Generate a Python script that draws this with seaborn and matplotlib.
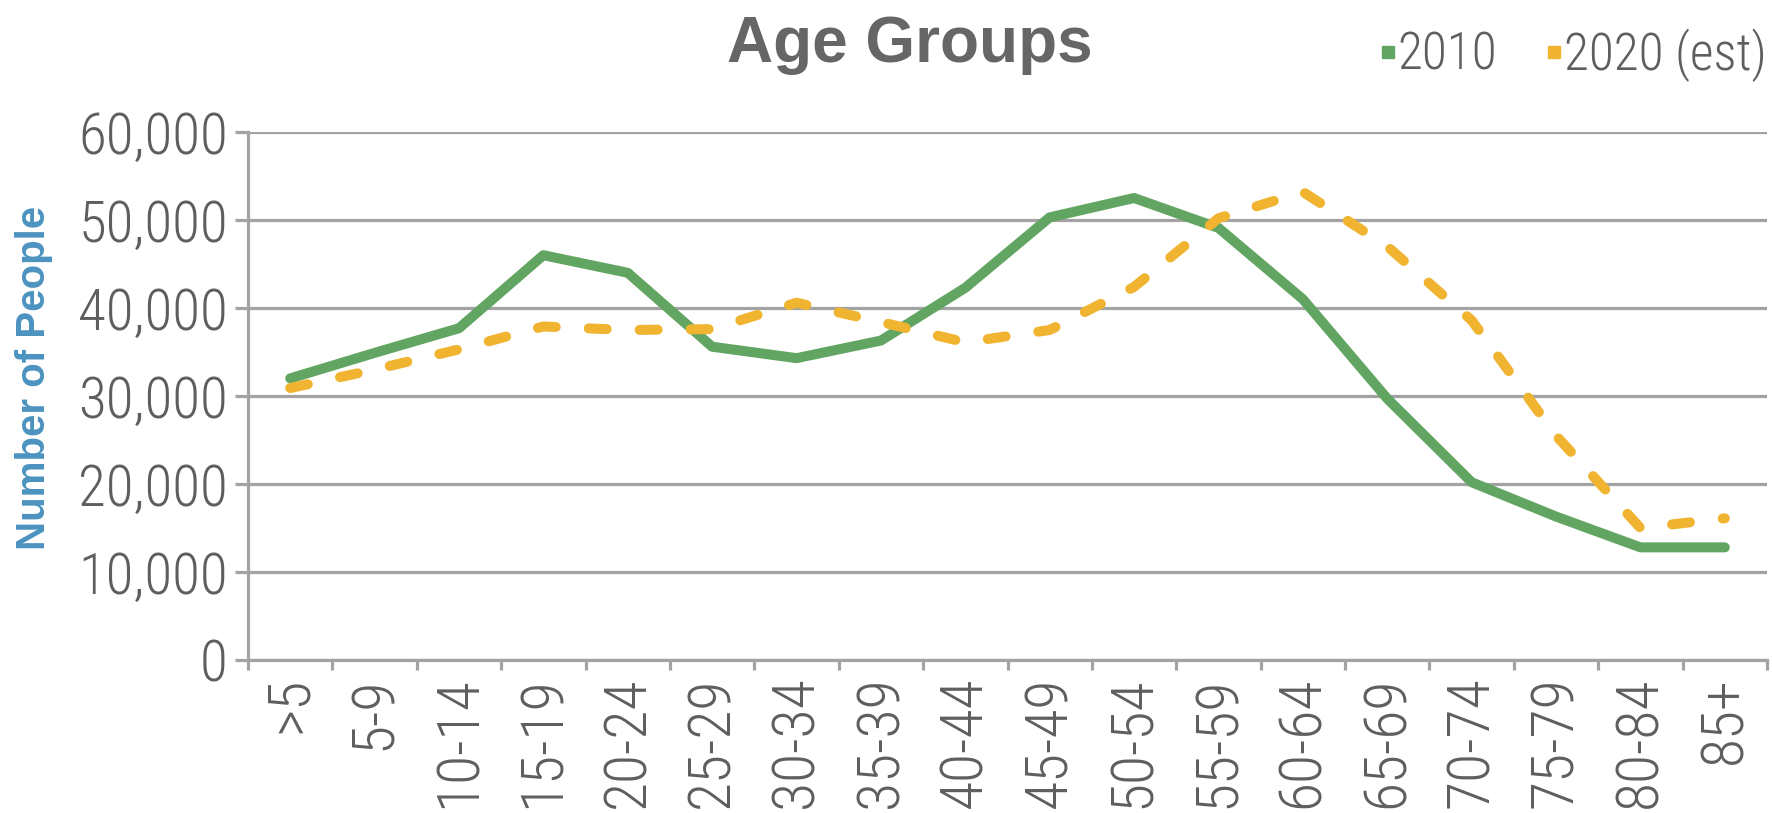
import matplotlib
matplotlib.use("Agg")
import matplotlib.pyplot as plt
from matplotlib import font_manager as fm
from matplotlib.lines import Line2D
from matplotlib.ticker import FixedLocator, FuncFormatter
import pandas as pd
import seaborn as sns

# ---- data -------------------------------------------------------------
age_groups = [">5", "5-9", "10-14", "15-19", "20-24", "25-29", "30-34",
              "35-39", "40-44", "45-49", "50-54", "55-59", "60-64",
              "65-69", "70-74", "75-79", "80-84", "85+"]
people_2010 = [32000, 34900, 37700, 46000, 44000, 35600, 34300, 36300,
               42300, 50300, 52500, 49100, 41000, 29700, 20200, 16300,
               12800, 12800]
people_2020 = [30900, 33000, 35300, 37900, 37500, 37600, 40600, 38400,
               36100, 37500, 42400, 50200, 53200, 47000, 38600, 25500,
               15000, 16100]
series_names = ["2010", "2020 (est)"]
y_ticks = [0, 10000, 20000, 30000, 40000, 50000, 60000]

# ---- style ------------------------------------------------------------
sns.set_theme(style="white")
fonts = fm.fontManager.ttflist
names = {f.name for f in fonts}
stretch = "normal"
if "Roboto Condensed" in names:
    narrow = "Roboto Condensed"
elif "Liberation Sans Narrow" in names:
    narrow = "Liberation Sans Narrow"
elif any(f.name == "DejaVu Sans" and f.stretch == "condensed" for f in fonts):
    narrow, stretch = "DejaVu Sans", "condensed"
else:
    narrow = "Liberation Sans"
plt.rcParams["font.family"] = [narrow, "DejaVu Sans"]
plt.rcParams["font.stretch"] = stretch
plt.rcParams["font.weight"] = "light"

GREEN = "#62a562"
ORANGE = "#f0b430"
GRID = "#a3a3a3"
TEXT = "#5e5e5e"
palette = {series_names[0]: GREEN, series_names[1]: ORANGE}

df = pd.DataFrame({
    "Age Group": age_groups * 2,
    "Number of People": people_2010 + people_2020,
    "Series": [series_names[0]] * len(age_groups) + [series_names[1]] * len(age_groups),
})

W, H = 1772, 813
fig = plt.figure(figsize=(W / 100, H / 100), dpi=100)
ax = fig.add_axes([248 / W, 1 - 660 / H, (1767 - 248) / W, (660 - 132) / H])

sns.lineplot(data=df, x="Age Group", y="Number of People", hue="Series",
             style="Series", palette=palette,
             dashes={series_names[0]: "", series_names[1]: (1.8, 3.3)},
             linewidth=7.2, sort=False, legend=False, ax=ax)
for ln in ax.lines:
    ln.set_dash_capstyle("round")
    ln.set_solid_capstyle("round")
    ln.set_solid_joinstyle("round")
    ln.set_dash_joinstyle("round")

# ---- axes -------------------------------------------------------------
ax.set_xlim(-0.5, len(age_groups) - 0.5)
ax.set_ylim(0, 60000)
ax.set_xlabel("")
ax.set_ylabel("")
ax.yaxis.set_major_locator(FixedLocator(y_ticks))
ax.yaxis.set_major_formatter(FuncFormatter(lambda v, p: f"{int(v):,}"))
ax.yaxis.grid(True, color=GRID, linewidth=2.3)
ax.xaxis.grid(False)
ax.set_axisbelow(True)

for side in ("top", "right"):
    ax.spines[side].set_visible(False)
for side in ("left", "bottom"):
    ax.spines[side].set_color(GRID)
    ax.spines[side].set_linewidth(2.3)

ax.set_xticks(range(len(age_groups)))
ax.set_xticklabels(age_groups, rotation=90, va="top", ha="center")
ax.set_xticks([i - 0.5 for i in range(len(age_groups) + 1)], minor=True)
ax.tick_params(axis="x", which="major", length=0, pad=12,
               labelsize=43, labelcolor=TEXT)
ax.tick_params(axis="x", which="minor", length=7.5, width=2.3,
               color=GRID, direction="out", bottom=True)
ax.tick_params(axis="y", which="major", length=9.5, width=2.3, color=GRID,
               direction="out", left=True, pad=5, labelsize=41,
               labelcolor=TEXT)

# ---- titles and legend ------------------------------------------------
fig.text(910 / W, 1 - 45 / H, "Age Groups", ha="center", va="center",
         fontsize=46, fontweight="bold", color="#666666",
         family=["Liberation Sans", "DejaVu Sans"], stretch="normal")
fig.text(34 / W, 1 - 378 / H, "Number of People", rotation=90,
         ha="center", va="center", fontsize=29, fontweight="bold",
         color="#4c93c0", family=["Liberation Sans", "DejaVu Sans"],
         stretch="normal")

handles = [Line2D([], [], marker="s", linestyle="none", markersize=9,
                  color=palette[name], label=name) for name in series_names]
fig.legend(handles=handles, loc="center right",
           bbox_to_anchor=(1767 / W, 1 - 55 / H), ncol=2, frameon=False,
           fontsize=37, labelcolor=TEXT, handletextpad=-0.1,
           columnspacing=0.8, borderpad=0, borderaxespad=0,
           handlelength=0.6)

fig.savefig("out.png", dpi=100, facecolor="white")
